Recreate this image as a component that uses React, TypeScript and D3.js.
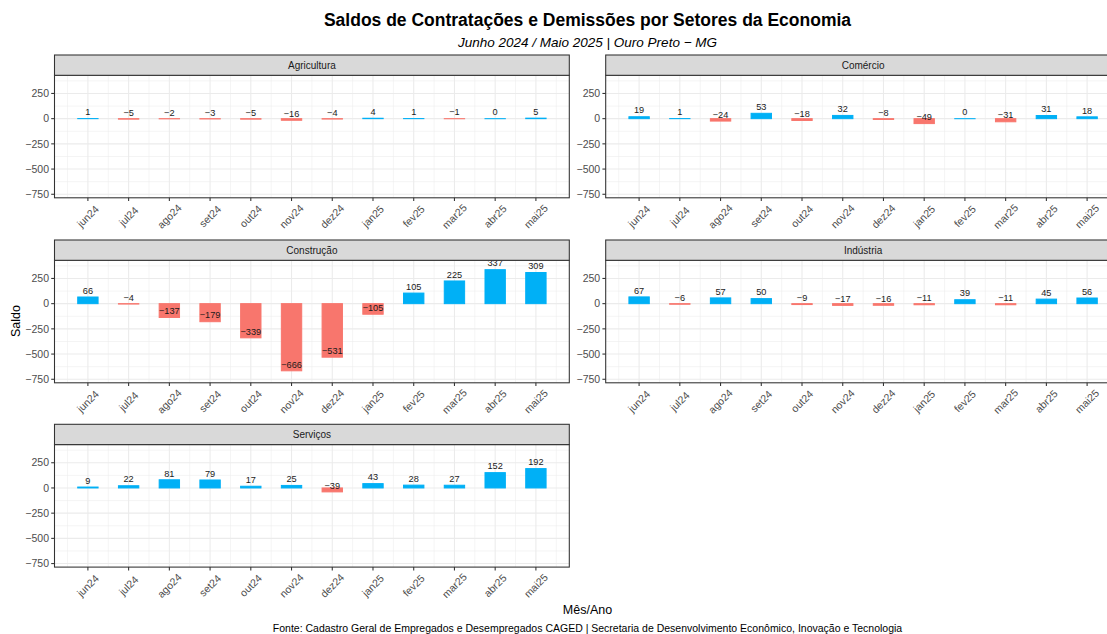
import React, { useEffect, useRef } from "react";
import * as d3 from "d3";

// months shown on every panel
const months = ["jun24", "jul24", "ago24", "set24", "out24", "nov24", "dez24", "jan25", "fev25", "mar25", "abr25", "mai25"];

const sectors = ["Agricultura", "Comércio", "Construção", "Indústria", "Serviços"];

const agricultura = [1, -5, -2, -3, -5, -16, -4, 4, 1, -1, 0, 5];
const comercio = [19, 1, -24, 53, -18, 32, -8, -49, 0, -31, 31, 18];
const construcao = [66, -4, -137, -179, -339, -666, -531, -105, 105, 225, 337, 309];
const industria = [67, -6, 57, 50, -9, -17, -16, -11, 39, -11, 45, 56];
const servicos = [9, 22, 81, 79, 17, 25, -39, 43, 28, 27, 152, 192];

const yTicks = [250, 0, -250, -500, -750];
const yMinor = [375, 125, -125, -375, -625];

const title = "Saldos de Contratações e Demissões por Setores da Economia";
const subtitle = "Junho 2024 / Maio 2025 | Ouro Preto − MG";
const caption = "Fonte: Cadastro Geral de Empregados e Desempregados CAGED | Secretaria de Desenvolvimento Econômico, Inovação e Tecnologia";

const W = 1107;
const H = 634;
const FONT = "'Liberation Sans', Arial, Helvetica, sans-serif";
const POS = "#00B0F6";
const NEG = "#F8766D";

const fmt = (v: number) => (v < 0 ? "\u2212" + Math.abs(v) : String(v));

export default function App() {
  const ref = useRef<SVGSVGElement>(null);

  useEffect(() => {
    const svg = d3.select(ref.current);
    svg.selectAll("*").remove();

    const series = [agricultura, comercio, construcao, industria, servicos];
    const colX = [54.5, 605.7];
    const rowY = [55, 240, 424.3];
    const panelW = 514.8;
    const stripH = 20.3;
    const panelH = 122.5;

    const defs = svg.append("defs");

    sectors.forEach((name, k) => {
      const values = series[k];
      const left = colX[k % 2];
      const stripTop = rowY[Math.floor(k / 2)];
      const top = stripTop + stripH;
      const bottom = top + panelH;

      const x = d3.scalePoint<string>().domain(months).range([left, left + panelW]).padding(0.82);
      const step = x.step();
      const y = d3.scaleLinear().domain([-785, 430]).range([bottom, top]);

      const clipId = "clip" + k;
      defs.append("clipPath").attr("id", clipId)
        .append("rect").attr("x", left).attr("y", top).attr("width", panelW).attr("height", panelH);

      const g = svg.append("g");
      const inner = g.append("g").attr("clip-path", `url(#${clipId})`);

      inner.append("rect").attr("x", left).attr("y", top).attr("width", panelW).attr("height", panelH).attr("fill", "#fff");

      // minor grid
      inner.selectAll(".hmin").data(yMinor).enter().append("line")
        .attr("x1", left).attr("x2", left + panelW)
        .attr("y1", d => y(d)).attr("y2", d => y(d))
        .attr("stroke", "#EBEBEB").attr("stroke-width", 0.55);
      const vMinor = [months[0]].map(m => (x(m) as number) - step / 2).concat(months.map(m => (x(m) as number) + step / 2));
      inner.selectAll(".vmin").data(vMinor).enter().append("line")
        .attr("x1", d => d).attr("x2", d => d)
        .attr("y1", top).attr("y2", bottom)
        .attr("stroke", "#EBEBEB").attr("stroke-width", 0.55);
      // major grid
      inner.selectAll(".hmaj").data(yTicks).enter().append("line")
        .attr("x1", left).attr("x2", left + panelW)
        .attr("y1", d => y(d)).attr("y2", d => y(d))
        .attr("stroke", "#EBEBEB").attr("stroke-width", 1.07);
      inner.selectAll(".vmaj").data(months).enter().append("line")
        .attr("x1", d => x(d) as number).attr("x2", d => x(d) as number)
        .attr("y1", top).attr("y2", bottom)
        .attr("stroke", "#EBEBEB").attr("stroke-width", 1.07);

      // bars (a zero value still shows as a thin outline)
      const bw = step * 0.5;
      inner.selectAll(".bar").data(values).enter().append("rect")
        .attr("x", (d, i) => (x(months[i]) as number) - bw / 2)
        .attr("width", bw)
        .attr("y", d => y(Math.max(0, d)))
        .attr("height", d => Math.max(0.05, Math.abs(y(d) - y(0))))
        .attr("fill", d => (d >= 0 ? POS : NEG))
        .attr("stroke", d => (d >= 0 ? POS : NEG))
        .attr("stroke-width", 1);

      // value labels
      inner.selectAll(".lab").data(values).enter().append("text")
        .attr("x", (d, i) => x(months[i]) as number)
        .attr("y", d => y(d) - 6.5)
        .attr("dy", "0.35em")
        .attr("text-anchor", "middle")
        .attr("font-family", FONT)
        .attr("font-size", 9.2)
        .attr("fill", "#1a1a1a")
        .text(d => fmt(d));

      // panel border
      g.append("rect").attr("x", left).attr("y", top).attr("width", panelW).attr("height", panelH)
        .attr("fill", "none").attr("stroke", "#333333").attr("stroke-width", 1.07);

      // strip
      g.append("rect").attr("x", left).attr("y", stripTop).attr("width", panelW).attr("height", stripH)
        .attr("fill", "#D9D9D9").attr("stroke", "#333333").attr("stroke-width", 1.07);
      g.append("text").attr("x", left + panelW / 2).attr("y", stripTop + stripH / 2).attr("dy", "0.35em")
        .attr("text-anchor", "middle").attr("font-family", FONT).attr("font-size", 10).attr("fill", "#1A1A1A")
        .text(name);

      // y axis
      const ya = g.append("g");
      ya.selectAll("line").data(yTicks).enter().append("line")
        .attr("x1", left - 3.3).attr("x2", left)
        .attr("y1", d => y(d)).attr("y2", d => y(d))
        .attr("stroke", "#333333").attr("stroke-width", 1.07);
      ya.selectAll("text").data(yTicks).enter().append("text")
        .attr("x", left - 5.5).attr("y", d => y(d)).attr("dy", "0.35em")
        .attr("text-anchor", "end").attr("font-family", FONT).attr("font-size", 10.5).attr("fill", "#4D4D4D")
        .text(d => fmt(d));

      // x axis
      const xa = g.append("g");
      xa.selectAll("line").data(months).enter().append("line")
        .attr("x1", d => x(d) as number).attr("x2", d => x(d) as number)
        .attr("y1", bottom).attr("y2", bottom + 3.3)
        .attr("stroke", "#333333").attr("stroke-width", 1.07);
      xa.selectAll("text").data(months).enter().append("text")
        .attr("transform", d => `translate(${x(d)},${bottom + 18.5}) rotate(-45)`)
        .attr("dy", "0.35em")
        .attr("text-anchor", "middle").attr("font-family", FONT).attr("font-size", 10.5).attr("fill", "#4D4D4D")
        .text(d => d);
    });

    const cx = (colX[0] + colX[1] + panelW) / 2;

    svg.append("text").attr("x", cx).attr("y", 26).attr("text-anchor", "middle")
      .attr("font-family", FONT).attr("font-size", 17.5).attr("font-weight", "bold").attr("fill", "#000")
      .text(title);
    svg.append("text").attr("x", cx).attr("y", 46.5).attr("text-anchor", "middle")
      .attr("font-family", FONT).attr("font-size", 13.5).attr("font-style", "italic").attr("fill", "#000")
      .text(subtitle);
    svg.append("text").attr("transform", "translate(15.5,321) rotate(-90)").attr("dy", "0.35em")
      .attr("text-anchor", "middle").attr("font-family", FONT).attr("font-size", 12.5).attr("fill", "#000")
      .text("Saldo");
    svg.append("text").attr("x", cx).attr("y", 610).attr("dy", "0.35em").attr("text-anchor", "middle")
      .attr("font-family", FONT).attr("font-size", 12.5).attr("fill", "#000")
      .text("Mês/Ano");
    svg.append("text").attr("x", cx).attr("y", 628).attr("dy", "0.35em").attr("text-anchor", "middle")
      .attr("font-family", FONT).attr("font-size", 10.5).attr("fill", "#000")
      .text(caption);
  }, []);

  return (
    <svg
      ref={ref}
      width={W}
      height={H}
      style={{ position: "absolute", left: 0, top: 0, background: "#fff", display: "block" }}
    />
  );
}
